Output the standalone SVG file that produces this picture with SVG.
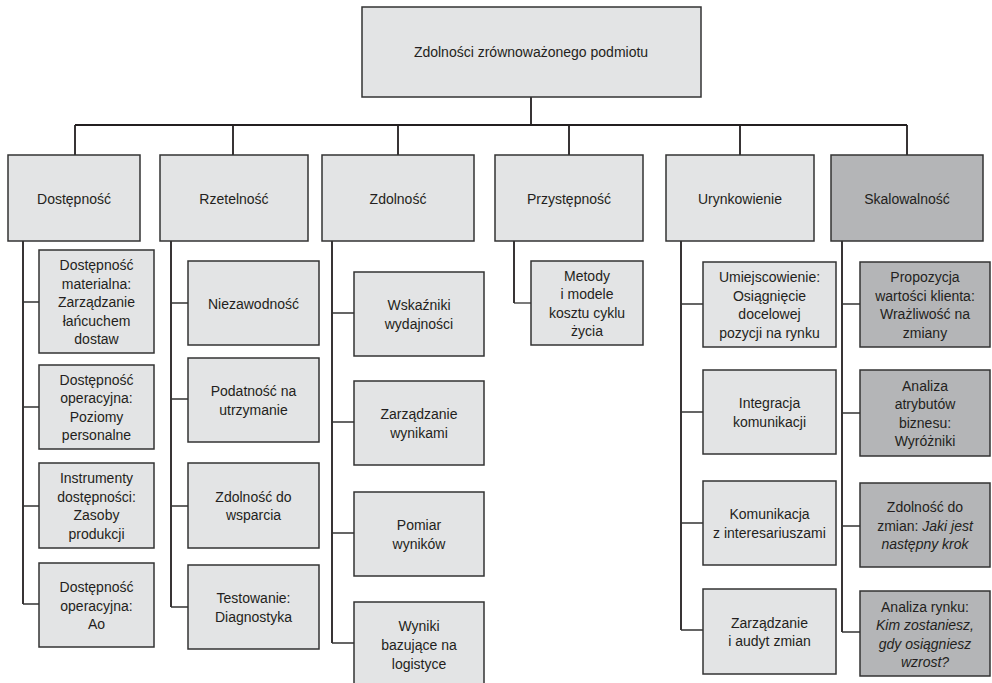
<svg xmlns="http://www.w3.org/2000/svg" width="992" height="683" viewBox="0 0 992 683">
  <style>
    .box { fill: #e3e4e5; stroke: #333333; stroke-width: 1.5; }
    .dark { fill: #b4b5b7; }
    .lbl { font-family: "Liberation Sans", Arial, sans-serif; font-size: 14px; fill: #231f20; text-anchor: middle; }
    .it { font-style: italic; }
    .wire { fill: none; stroke: #231f20; stroke-width: 1.8; }
    .twig { fill: none; stroke: #333333; stroke-width: 1.3; }
  </style>
  <rect width="992" height="683" fill="#ffffff"/>

  <!-- connectors -->
  <g id="connectors">
    <path class="wire" d="M531 97V125M75 125H907M75 125V155M233 125V155M398 125V155M569 125V155M740 125V155M907 125V155"/>
    <path class="wire" d="M23 241V604M171 241V607M332 241V643M514 241V303M681 241V630M842 241V632"/>
    <path class="twig" d="M23 302H39M23 407H39M23 506H39M23 604H39"/>
    <path class="twig" d="M171 303H188M171 399H188M171 506H188M171 607H188"/>
    <path class="twig" d="M332 313H354M332 422H354M332 533H354M332 643H354"/>
    <path class="twig" d="M514 303H531"/>
    <path class="twig" d="M681 304H703M681 412H703M681 523H703M681 630H703"/>
    <path class="twig" d="M842 304H860M842 413H860M842 526H860M842 632H860"/>
  </g>

  <!-- root -->
  <g id="root">
    <rect class="box" x="362" y="7" width="339" height="90"/>
    <text class="lbl" x="531" y="57">Zdolności zrównoważonego podmiotu</text>
  </g>

  <!-- first level -->
  <g id="dostepnosc">
    <rect class="box" x="8" y="155" width="132" height="86"/>
    <text class="lbl" x="74" y="203.5">Dostępność</text>
  </g>
  <g id="rzetelnosc">
    <rect class="box" x="160" y="155" width="148" height="86"/>
    <text class="lbl" x="234" y="203.5">Rzetelność</text>
  </g>
  <g id="zdolnosc">
    <rect class="box" x="322" y="155" width="152" height="86"/>
    <text class="lbl" x="398" y="203.5">Zdolność</text>
  </g>
  <g id="przystepnosc">
    <rect class="box" x="495" y="155" width="148" height="86"/>
    <text class="lbl" x="569" y="203.5">Przystępność</text>
  </g>
  <g id="urynkowienie">
    <rect class="box" x="666" y="155" width="148" height="86"/>
    <text class="lbl" x="740" y="203.5">Urynkowienie</text>
  </g>
  <g id="skalowalnosc">
    <rect class="box dark" x="831" y="155" width="152" height="86"/>
    <text class="lbl" x="907" y="203.5">Skalowalność</text>
  </g>

  <!-- Dostępność children -->
  <g id="dost-1">
    <rect class="box" x="39" y="250" width="115" height="103"/>
    <text class="lbl" x="96.5" y="270"><tspan x="96.5">Dostępność</tspan><tspan x="96.5" dy="18.5">materialna:</tspan><tspan x="96.5" dy="18.5">Zarządzanie</tspan><tspan x="96.5" dy="18.5">łańcuchem</tspan><tspan x="96.5" dy="18.5">dostaw</tspan></text>
  </g>
  <g id="dost-2">
    <rect class="box" x="39" y="365" width="115" height="84"/>
    <text class="lbl" x="96.5" y="384.75"><tspan x="96.5">Dostępność</tspan><tspan x="96.5" dy="18.5">operacyjna:</tspan><tspan x="96.5" dy="18.5">Poziomy</tspan><tspan x="96.5" dy="18.5">personalne</tspan></text>
  </g>
  <g id="dost-3">
    <rect class="box" x="39" y="463" width="115" height="85"/>
    <text class="lbl" x="96.5" y="483.25"><tspan x="96.5">Instrumenty</tspan><tspan x="96.5" dy="18.5">dostępności:</tspan><tspan x="96.5" dy="18.5">Zasoby</tspan><tspan x="96.5" dy="18.5">produkcji</tspan></text>
  </g>
  <g id="dost-4">
    <rect class="box" x="39" y="563" width="115" height="84"/>
    <text class="lbl" x="96.5" y="592"><tspan x="96.5">Dostępność</tspan><tspan x="96.5" dy="18.5">operacyjna:</tspan><tspan x="96.5" dy="18.5">Ao</tspan></text>
  </g>

  <!-- Rzetelność children -->
  <g id="rzet-1">
    <rect class="box" x="188" y="261" width="131" height="84"/>
    <text class="lbl" x="253.5" y="308.5">Niezawodność</text>
  </g>
  <g id="rzet-2">
    <rect class="box" x="188" y="358" width="131" height="84"/>
    <text class="lbl" x="253.5" y="396.25"><tspan x="253.5">Podatność na</tspan><tspan x="253.5" dy="18.5">utrzymanie</tspan></text>
  </g>
  <g id="rzet-3">
    <rect class="box" x="188" y="463" width="131" height="85"/>
    <text class="lbl" x="253.5" y="501.75"><tspan x="253.5">Zdolność do</tspan><tspan x="253.5" dy="18.5">wsparcia</tspan></text>
  </g>
  <g id="rzet-4">
    <rect class="box" x="188" y="565" width="131" height="84"/>
    <text class="lbl" x="253.5" y="603.25"><tspan x="253.5">Testowanie:</tspan><tspan x="253.5" dy="18.5">Diagnostyka</tspan></text>
  </g>

  <!-- Zdolność children -->
  <g id="zdol-1">
    <rect class="box" x="354" y="272" width="130" height="84"/>
    <text class="lbl" x="419" y="310.25"><tspan x="419">Wskaźniki</tspan><tspan x="419" dy="18.5">wydajności</tspan></text>
  </g>
  <g id="zdol-2">
    <rect class="box" x="354" y="381" width="130" height="84"/>
    <text class="lbl" x="419" y="419.25"><tspan x="419">Zarządzanie</tspan><tspan x="419" dy="18.5">wynikami</tspan></text>
  </g>
  <g id="zdol-3">
    <rect class="box" x="354" y="492" width="130" height="84"/>
    <text class="lbl" x="419" y="530.25"><tspan x="419">Pomiar</tspan><tspan x="419" dy="18.5">wyników</tspan></text>
  </g>
  <g id="zdol-4">
    <rect class="box" x="354" y="602" width="130" height="88"/>
    <text class="lbl" x="419" y="631"><tspan x="419">Wyniki</tspan><tspan x="419" dy="19">bazujące na</tspan><tspan x="419" dy="19">logistyce</tspan></text>
  </g>

  <!-- Przystępność child -->
  <g id="przyst-1">
    <rect class="box" x="531" y="261" width="112" height="84"/>
    <text class="lbl" x="587" y="280.75"><tspan x="587">Metody</tspan><tspan x="587" dy="18.5">i modele</tspan><tspan x="587" dy="18.5">kosztu cyklu</tspan><tspan x="587" dy="18.5">życia</tspan></text>
  </g>

  <!-- Urynkowienie children -->
  <g id="uryn-1">
    <rect class="box" x="703" y="262" width="133" height="85"/>
    <text class="lbl" x="769.5" y="282.25"><tspan x="769.5">Umiejscowienie:</tspan><tspan x="769.5" dy="18.5">Osiągnięcie</tspan><tspan x="769.5" dy="18.5">docelowej</tspan><tspan x="769.5" dy="18.5">pozycji na rynku</tspan></text>
  </g>
  <g id="uryn-2">
    <rect class="box" x="703" y="370" width="133" height="84"/>
    <text class="lbl" x="769.5" y="408.25"><tspan x="769.5">Integracja</tspan><tspan x="769.5" dy="18.5">komunikacji</tspan></text>
  </g>
  <g id="uryn-3">
    <rect class="box" x="703" y="481" width="133" height="84"/>
    <text class="lbl" x="769.5" y="519.25"><tspan x="769.5">Komunikacja</tspan><tspan x="769.5" dy="18.5">z interesariuszami</tspan></text>
  </g>
  <g id="uryn-4">
    <rect class="box" x="703" y="589" width="133" height="85"/>
    <text class="lbl" x="769.5" y="627.75"><tspan x="769.5">Zarządzanie</tspan><tspan x="769.5" dy="18.5">i audyt zmian</tspan></text>
  </g>

  <!-- Skalowalność children -->
  <g id="skal-1">
    <rect class="box dark" x="860" y="262" width="130" height="85"/>
    <text class="lbl" x="925" y="282.25"><tspan x="925">Propozycja</tspan><tspan x="925" dy="18.5">wartości klienta:</tspan><tspan x="925" dy="18.5">Wrażliwość na</tspan><tspan x="925" dy="18.5">zmiany</tspan></text>
  </g>
  <g id="skal-2">
    <rect class="box dark" x="860" y="370" width="130" height="86"/>
    <text class="lbl" x="925" y="390.75"><tspan x="925">Analiza</tspan><tspan x="925" dy="18.5">atrybutów</tspan><tspan x="925" dy="18.5">biznesu:</tspan><tspan x="925" dy="18.5">Wyróżniki</tspan></text>
  </g>
  <g id="skal-3">
    <rect class="box dark" x="860" y="483" width="130" height="84"/>
    <text class="lbl" x="925" y="512"><tspan x="925">Zdolność do</tspan><tspan x="925" dy="18.5">zmian: <tspan class="it">Jaki jest</tspan></tspan><tspan x="925" dy="18.5" class="it">następny krok</tspan></text>
  </g>
  <g id="skal-4">
    <rect class="box dark" x="860" y="591" width="130" height="85"/>
    <text class="lbl" x="925" y="611.75"><tspan x="925">Analiza rynku:</tspan><tspan x="925" dy="18.5" class="it">Kim zostaniesz,</tspan><tspan x="925" dy="18.5" class="it">gdy osiągniesz</tspan><tspan x="925" dy="18.5" class="it">wzrost?</tspan></text>
  </g>
</svg>
